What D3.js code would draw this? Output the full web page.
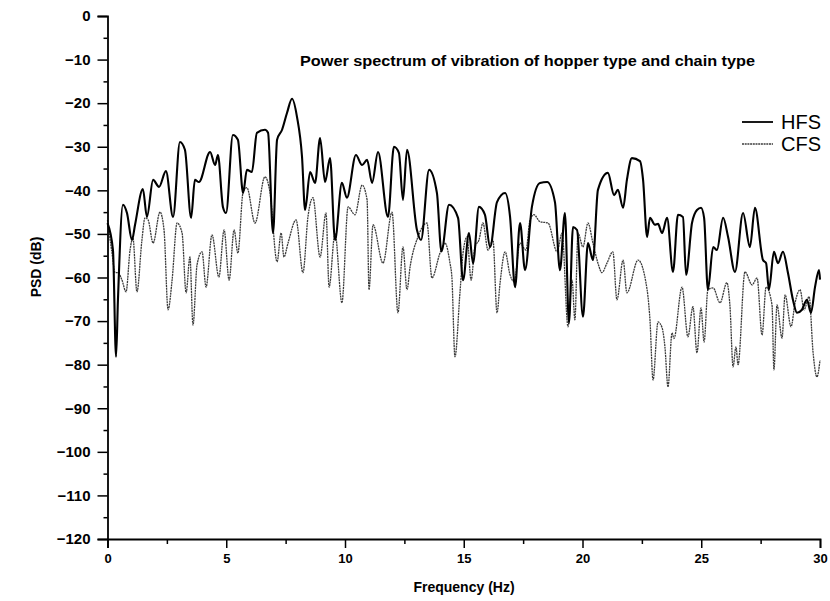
<!DOCTYPE html>
<html><head><meta charset="utf-8">
<script src="https://cdn.jsdelivr.net/npm/d3@7"></script>
<style>body{margin:0;background:#fff}</style>
</head><body>
<svg id="c" width="830" height="601"></svg>
<script>
const seriesNames = ["HFS", "CFS"];
const xTicks = [0, 5, 10, 15, 20, 25, 30];
const xMinorTicks = [2.5, 7.5, 12.5, 17.5, 22.5, 27.5];
const yTicks = [0, -10, -20, -30, -40, -50, -60, -70, -80, -90, -100, -110, -120];
const yMinorTicks = [-5, -15, -25, -35, -45, -55, -65, -75, -85, -95, -105, -115];

const hfsHz = [0,0.23,0.36,0.44,0.65,0.82,1.03,1.16,1.49,1.66,1.92,2.17,2.46,2.76,3.05,3.26,3.52,3.68,3.85,4.32,4.53,4.65,4.86,4.99,5.28,5.49,5.71,5.87,6.08,6.29,6.63,6.76,6.97,7.14,7.35,7.56,7.77,7.98,8.19,8.32,8.53,8.74,8.95,9.16,9.37,9.58,9.87,10.08,10.46,10.72,10.93,11.14,11.39,11.81,12.06,12.27,12.44,12.61,13.03,13.2,13.54,13.87,14.06,14.38,14.76,14.97,15.22,15.39,15.64,15.89,16.11,16.4,16.74,16.95,17.16,17.37,17.58,17.87,18.21,18.51,18.84,19.05,19.26,19.43,19.6,19.77,20.02,20.23,20.44,20.65,21.07,21.33,21.49,21.71,21.87,22.08,22.42,22.55,22.72,22.84,23.05,23.18,23.35,23.56,23.81,24.02,24.23,24.36,24.61,24.82,24.99,25.12,25.28,25.5,25.66,25.92,26.13,26.42,26.76,27.05,27.26,27.6,27.73,27.85,28.06,28.23,28.44,28.65,28.86,29.03,29.24,29.45,29.62,29.79,29.96,30];
const hfsDb = [-47.5,-53.7,-78.2,-65.1,-43.3,-45.2,-51.4,-47.9,-39.7,-46.1,-37.6,-39.2,-35.6,-46.1,-28.9,-30.7,-46.3,-37.6,-38.1,-31.2,-34.2,-31.9,-43.8,-45.2,-27.3,-28.4,-40.6,-35.3,-35.8,-26.8,-26.1,-26.8,-49.8,-28.4,-26.1,-22.2,-19.0,-23.2,-32.3,-44.5,-35.8,-38.3,-28.0,-38.1,-32.6,-51.4,-38.3,-41.7,-31.9,-34.2,-33.0,-38.3,-31.2,-46.1,-30.0,-31.4,-42.2,-30.7,-49.1,-51.4,-35.3,-40.6,-54.0,-43.3,-46.3,-60.6,-49.8,-56.7,-43.8,-45.6,-53.0,-42.7,-40.6,-46.1,-62.2,-47.5,-58.3,-43.8,-38.3,-38.1,-42.7,-58.3,-45.2,-70.4,-48.4,-49.1,-69.0,-52.1,-56.0,-39.9,-36.0,-41.1,-39.9,-44.0,-37.6,-32.6,-33.3,-37.6,-50.7,-46.3,-47.9,-47.7,-49.8,-46.3,-58.7,-45.6,-46.1,-59.4,-47.5,-44.5,-44.0,-46.3,-62.8,-53.0,-53.7,-46.3,-50.7,-58.7,-45.2,-53.0,-44.0,-56.0,-56.7,-62.8,-54.1,-56.7,-54.1,-58.9,-65.1,-68.1,-67.4,-65.1,-68.1,-62.2,-58.3,-60.5];

const cfsHz = [0,0.19,0.32,0.44,0.61,0.78,0.95,1.07,1.24,1.45,1.58,1.71,1.92,2.21,2.38,2.55,2.72,2.93,3.14,3.31,3.47,3.6,3.77,3.98,4.15,4.4,4.69,4.91,5.12,5.33,5.49,5.71,5.87,6.21,6.63,6.84,7.14,7.31,7.43,7.6,7.94,8.23,8.44,8.65,8.95,9.2,9.33,9.58,9.87,10.13,10.42,10.72,10.93,11.01,11.18,11.6,11.98,12.23,12.44,12.61,12.74,13.07,13.45,13.66,14.0,14.21,14.42,14.5,14.63,14.84,14.97,15.14,15.31,15.47,15.64,15.81,16.02,16.23,16.4,16.53,16.74,16.95,17.12,17.37,17.62,17.79,17.96,18.21,18.55,18.93,19.14,19.39,19.56,19.68,19.81,20.02,20.23,20.44,20.65,20.82,21.03,21.28,21.45,21.71,21.87,22.34,22.72,22.84,22.97,23.18,23.35,23.47,23.6,23.77,23.85,24.19,24.44,24.65,24.82,24.99,25.12,25.28,25.5,25.79,26.08,26.21,26.34,26.46,26.55,26.84,27.14,27.35,27.56,27.73,27.98,28.06,28.19,28.4,28.53,28.78,28.95,29.16,29.33,29.54,29.71,29.87,30];
const cfsDb = [-46.8,-54.4,-58.9,-58.9,-60.6,-63.3,-53.7,-50.9,-63.3,-51.4,-46.3,-46.8,-52.1,-45.0,-49.1,-67.4,-60.6,-47.5,-49.8,-63.5,-55.3,-70.9,-57.1,-54.1,-62.2,-50.2,-59.9,-49.1,-60.6,-49.1,-54.4,-40.4,-39.4,-47.5,-36.9,-40.4,-56.4,-49.8,-55.3,-52.1,-46.8,-58.9,-46.1,-41.7,-55.3,-45.2,-62.2,-49.8,-65.8,-43.8,-45.6,-38.8,-42.2,-62.8,-47.9,-56.7,-45.0,-68.1,-53.0,-62.8,-57.6,-50.7,-47.5,-60.1,-54.4,-52.1,-56.7,-59.9,-78.2,-63.5,-54.4,-50.7,-60.6,-53.0,-51.4,-47.5,-53.7,-51.4,-68.1,-61.2,-54.1,-59.4,-61.0,-52.1,-53.7,-46.8,-45.6,-47.2,-47.5,-54.1,-49.8,-71.3,-60.6,-69.7,-49.8,-53.0,-47.5,-52.1,-56.7,-58.9,-56.7,-54.1,-65.1,-56.0,-63.5,-56.0,-62.8,-69.7,-83.5,-70.2,-71.5,-75.9,-85.1,-72.7,-74.0,-62.2,-73.6,-66.7,-77.3,-67.0,-74.8,-62.8,-62.4,-65.8,-61.2,-66.7,-80.5,-75.9,-80.0,-58.7,-61.7,-60.1,-73.2,-62.2,-66.3,-81.2,-66.3,-73.9,-64.0,-71.3,-65.8,-62.8,-67.4,-64.4,-77.3,-82.8,-79.0];

const x = d3.scaleLinear().domain([0, 30]).range([107.5, 820]);
const y = d3.scaleLinear().domain([-120, 0]).range([539, 16]);
const svg = d3.select('#c');
const fontBold = "'Liberation Sans', Arial, sans-serif";

const line = d3.line().x(d => x(d[0])).y(d => y(d[1])).curve(d3.curveMonotoneX);

svg.append('path').datum(d3.zip(cfsHz, cfsDb)).attr('d', line)
  .attr('fill', 'none').attr('stroke', '#3c3c3c').attr('stroke-width', 1.3)
  .attr('stroke-dasharray', '2 0.7');
svg.append('path').datum(d3.zip(hfsHz, hfsDb)).attr('d', line)
  .attr('fill', 'none').attr('stroke', '#000').attr('stroke-width', 2.1)
  .attr('stroke-linejoin', 'round');

// Y axis
const fmt = d => d === 0 ? '0' : '\u2212' + Math.abs(d);
const gy = svg.append('g').attr('transform', 'translate(107.5,0)')
  .call(d3.axisLeft(y).tickValues(yTicks).tickSize(10).tickPadding(7).tickFormat(fmt));
svg.append('g').attr('transform', 'translate(107.5,0)')
  .call(d3.axisLeft(y).tickValues(yMinorTicks).tickSize(4).tickFormat(''))
  .select('.domain').remove();
// X axis
const gx = svg.append('g').attr('transform', 'translate(0,539)')
  .call(d3.axisBottom(x).tickValues(xTicks).tickSize(9).tickPadding(6).tickFormat(d3.format('d')));
svg.append('g').attr('transform', 'translate(0,539)')
  .call(d3.axisBottom(x).tickValues(xMinorTicks).tickSize(5).tickFormat(''))
  .select('.domain').remove();

svg.selectAll('.domain').attr('stroke', '#000').attr('stroke-width', 1.8);
svg.selectAll('.tick line').attr('stroke', '#000').attr('stroke-width', 1.5);
gy.selectAll('.tick text').attr('font-family', fontBold).attr('font-weight', 'bold').attr('font-size', 15).attr('fill', '#000');
gx.selectAll('.tick text').attr('font-family', "'Liberation Sans Narrow', 'Liberation Sans', Arial, sans-serif").attr('font-weight', 'bold').attr('font-size', 13).attr('fill', '#000');

// Title
svg.append('text').attr('x', 300).attr('y', 66)
  .attr('font-family', fontBold).attr('font-weight', 'bold').attr('font-size', 14)
  .attr('textLength', 455).attr('lengthAdjust', 'spacingAndGlyphs')
  .text('Power spectrum of vibration of hopper type and chain type');

// Legend
const legY = [122, 144];
seriesNames.forEach((n, i) => {
  svg.append('line').attr('x1', 742).attr('x2', 773).attr('y1', legY[i]).attr('y2', legY[i])
    .attr('stroke', i === 0 ? '#000' : '#3c3c3c').attr('stroke-width', i === 0 ? 1.8 : 1.4)
    .attr('stroke-dasharray', i === 0 ? null : '2 0.7');
  svg.append('text').attr('x', 781).attr('y', legY[i] + 7)
    .attr('font-family', fontBold).attr('font-size', 20).attr('fill', '#000').text(n);
});

// Axis labels
svg.append('text').attr('transform', 'translate(36,267) rotate(-90)')
  .attr('text-anchor', 'middle').attr('dominant-baseline', 'central')
  .attr('font-family', fontBold).attr('font-weight', 'bold').attr('font-size', 14)
  .text('PSD (dB)');
svg.append('text').attr('x', 464).attr('y', 592).attr('text-anchor', 'middle')
  .attr('font-family', "'Liberation Sans Narrow', 'Liberation Sans', Arial, sans-serif").attr('font-weight', 'bold').attr('font-size', 14)
  .text('Frequency (Hz)');
</script>
</body></html>
